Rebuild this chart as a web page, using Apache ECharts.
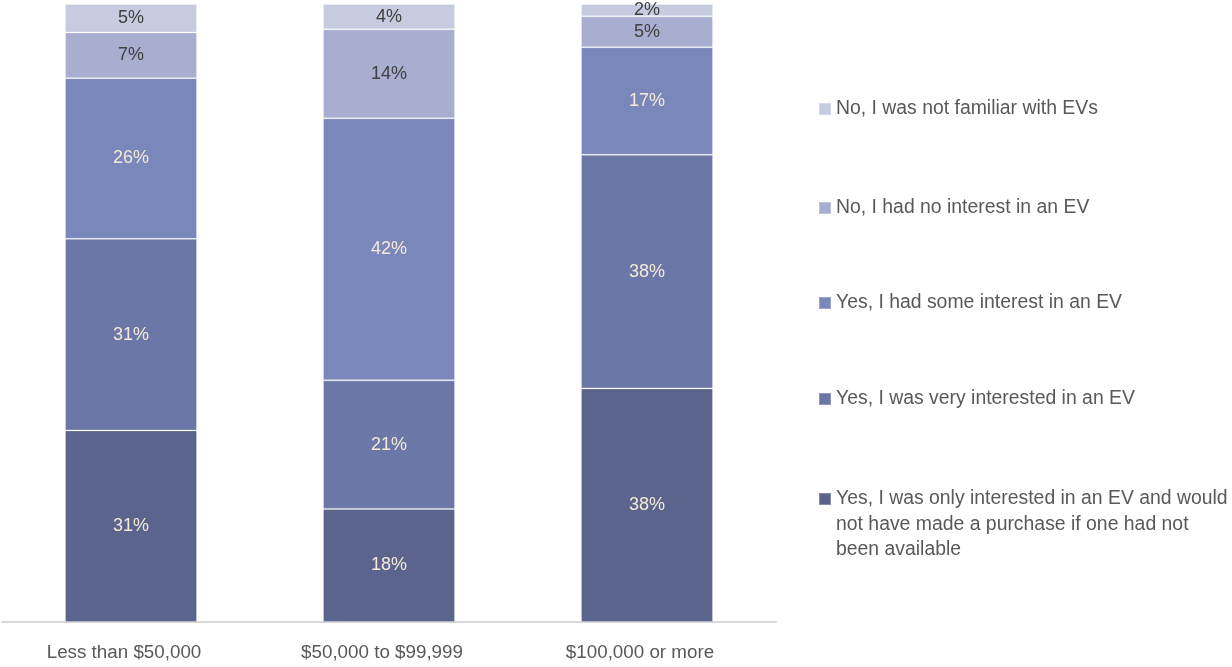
<!DOCTYPE html>
<html>
<head>
<meta charset="utf-8">
<script src="https://cdn.jsdelivr.net/npm/echarts@6/dist/echarts.min.js"></script>
<style>
html,body{margin:0;padding:0;background:#fff;}
#chart{width:1232px;height:667px;}
</style>
</head>
<body>
<div id="chart"></div>
<script>
const categories = ['Less than $50,000', '$50,000 to $99,999', '$100,000 or more'];
const seriesNames = [
  'Yes, I was only interested in an EV and would\nnot have made a purchase if one had not\nbeen available',
  'Yes, I was very interested in an EV',
  'Yes, I had some interest in an EV',
  'No, I had no interest in an EV',
  'No, I was not familiar with EVs'
];
const onlyInterested = [31.0, 18.3, 37.8];
const veryInterested = [31.0, 20.8, 37.8];
const someInterest = [26.0, 42.4, 17.4];
const noInterest = [7.4, 14.4, 5.0];
const notFamiliar = [4.6, 4.1, 2.0];

const seriesValues = [onlyInterested, veryInterested, someInterest, noInterest, notFamiliar];
const colors = ['#5a648c', '#6b77a6', '#7a87bb', '#a7aecf', '#c6cbe0'];
const labelColors = ['#f4e9da', '#f4e9da', '#f4e9da', '#404040', '#404040'];
const font = "'Liberation Sans', Arial, sans-serif";

const chart = echarts.init(document.getElementById('chart'));

const series = seriesValues.map((vals, i) => ({
  name: seriesNames[i],
  type: 'bar',
  stack: 'total',
  barWidth: 132,
  data: vals,
  itemStyle: { color: colors[i], borderColor: 'rgba(255,255,255,0.25)', borderWidth: 1 },
  label: {
    show: true,
    position: 'inside',
    color: labelColors[i],
    fontFamily: font,
    fontSize: 18,
    formatter: p => Math.round(p.value) + '%'
  },
  emphasis: { disabled: true }
}));

const legendCenters = [109, 208, 303, 399];
const legends = [];
for (let k = 0; k < 4; k++) {
  const idx = 4 - k;
  legends.push({
    data: [seriesNames[idx]],
    left: 818, top: legendCenters[k] - 11, padding: 0,
    itemWidth: 12, itemHeight: 12, icon: 'rect',
    selectedMode: false,
    textStyle: { color: '#595959', fontFamily: font, fontSize: 19.4, lineHeight: 22 }
  });
}
// multi-line item: icon drawn at the top of a tall item box so it sits beside the first line
legends.push({
  data: [seriesNames[0]],
  left: 818, top: 499 - 6 - 6.75, padding: 0,
  itemWidth: 12, itemHeight: 63,
  icon: 'path://M0,0H12V12H0Z M0,63L0,63',
  selectedMode: false,
  textStyle: { color: '#595959', fontFamily: font, fontSize: 19.4, lineHeight: 25.5 }
});

chart.setOption({
  animation: false,
  color: colors,
  legend: legends,
  grid: { left: 2, right: 456, top: 4, bottom: 45 },
  xAxis: {
    type: 'category',
    data: categories,
    axisTick: { show: false },
    axisLine: { lineStyle: { color: '#d9d9d9', width: 2 } },
    axisLabel: { color: '#595959', fontFamily: font, fontSize: 18.8, margin: 21, padding: [0, 14, 0, 0] }
  },
  yAxis: {
    type: 'value', min: 0, max: 100, show: false,
    splitLine: { show: false }
  },
  series: series
});
</script>
</body>
</html>
